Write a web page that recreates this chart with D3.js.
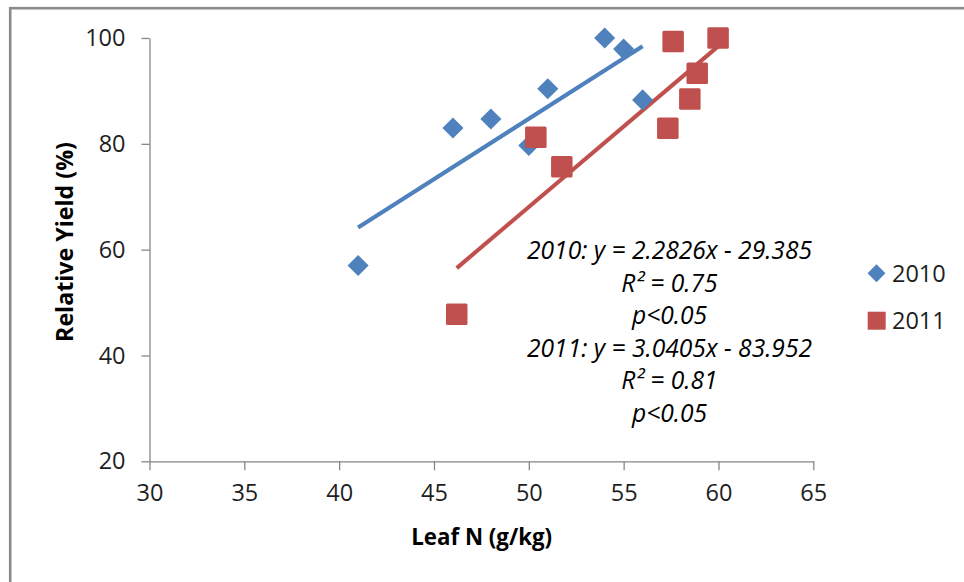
<!DOCTYPE html>
<html>
<head>
<meta charset="utf-8">
<script src="https://cdn.jsdelivr.net/npm/d3@7"></script>
<style>
  html, body { margin: 0; padding: 0; background: #fff; }
  svg { display: block; font-family: "Open Sans", sans-serif; }
</style>
</head>
<body>
<svg id="chart" width="964" height="582"></svg>
<script>
// ---- data ----
const series2010_x = [41, 46, 48, 50, 51, 54, 55, 56];
const series2010_y = [57, 83, 84.7, 79.7, 90.4, 100, 97.9, 88.3];
const series2011_x = [46.2, 50.37, 51.74, 57.33, 57.61, 58.49, 58.88, 59.98];
const series2011_y = [47.8, 81.25, 75.69, 82.95, 99.32, 88.49, 93.35, 100];
const seriesNames = ["2010", "2011"];
const trendSlope = [2.2826, 3.0405];
const trendIntercept = [-29.385, -83.952];
const xTicks = [30, 35, 40, 45, 50, 55, 60, 65];
const yTicks = [20, 40, 60, 80, 100];
const annotationLines = [
  "2010: y = 2.2826x - 29.385",
  "R\u00B2 = 0.75",
  "p<0.05",
  "2011: y = 3.0405x - 83.952",
  "R\u00B2 = 0.81",
  "p<0.05"
];
const xTitle = "Leaf N (g/kg)";
const yTitle = "Relative Yield (%)";

// ---- layout ----
const colors = ["#4F81BD", "#C0504D"];
const svg = d3.select("#chart");

// outer frame
svg.append("rect")
  .attr("x", 10.2).attr("y", 8.2)
  .attr("width", 1000).attr("height", 700)
  .attr("fill", "none")
  .attr("stroke", "#8a8a8a")
  .attr("stroke-width", 2.6);

const x = d3.scaleLinear().domain([30, 65]).range([149.5, 813.3]);
const y = d3.scaleLinear().domain([20, 100]).range([461.3, 38]);

const fontSize = 23.5;

// axes
const yAxis = d3.axisLeft(y).tickValues(yTicks).tickSize(8).tickSizeOuter(0).tickPadding(16);
const xAxis = d3.axisBottom(x).tickValues(xTicks).tickSize(9).tickSizeOuter(0).tickPadding(14.5);

const gy = svg.append("g").attr("transform", `translate(${x(30)},0)`).call(yAxis);
const gx = svg.append("g").attr("transform", `translate(0,${y(20)})`).call(xAxis);

[gx, gy].forEach(g => {
  g.selectAll("path.domain").attr("stroke", "#868686").attr("stroke-width", 1.3);
  g.selectAll(".tick line").attr("stroke", "#868686").attr("stroke-width", 1.3);
  g.selectAll(".tick text")
    .attr("font-family", "'Open Sans', sans-serif")
    .attr("font-size", fontSize)
    .attr("fill", "#1e1e1e");
});

// axis titles
svg.append("text")
  .attr("x", 481.7).attr("y", 545)
  .attr("text-anchor", "middle")
  .attr("font-weight", "bold")
  .attr("font-size", 22.3)
  .attr("fill", "#000")
  .text(xTitle);

svg.append("text")
  .attr("transform", `translate(73,242) rotate(-90)`)
  .attr("text-anchor", "middle")
  .attr("font-weight", "bold")
  .attr("font-size", 23.2)
  .attr("fill", "#000")
  .text(yTitle);

// trend lines
const allX = [series2010_x, series2011_x];
const line = d3.line().x(d => x(d[0])).y(d => y(d[1]));
allX.forEach((xs, i) => {
  const ext = d3.extent(xs);
  const pts = ext.map(v => [v, trendSlope[i] * v + trendIntercept[i]]);
  svg.append("path")
    .attr("d", line(pts))
    .attr("fill", "none")
    .attr("stroke", colors[i])
    .attr("stroke-width", 4.1);
});

// markers
const diamond = d3.symbol().type(d3.symbolSquare).size(222);

svg.append("g").selectAll("path")
  .data(series2010_x.map((v, i) => [v, series2010_y[i]]))
  .join("path")
  .attr("d", diamond)
  .attr("transform", d => `translate(${x(d[0])},${y(d[1])}) rotate(45)`)
  .attr("fill", colors[0]);

svg.append("g").selectAll("rect")
  .data(series2011_x.map((v, i) => [v, series2011_y[i]]))
  .join("rect")
  .attr("x", d => x(d[0]) - 10.75)
  .attr("y", d => y(d[1]) - 10.75)
  .attr("width", 21.5).attr("height", 21.5)
  .attr("rx", 1.5)
  .attr("fill", colors[1]);

// annotation
const ann = svg.append("text")
  .attr("font-style", "italic")
  .attr("font-size", 24.6)
  .attr("fill", "#000")
  .attr("text-anchor", "middle");
annotationLines.forEach((t, i) => {
  ann.append("tspan")
    .attr("x", 669.5)
    .attr("y", 259 + i * 32.6)
    .text(t);
});

// legend
const legend = svg.append("g");
legend.append("path")
  .attr("d", d3.symbol().type(d3.symbolSquare).size(160)())
  .attr("transform", "translate(876.5,273.3) rotate(45)")
  .attr("fill", colors[0]);
legend.append("rect")
  .attr("x", 876.7 - 9).attr("y", 320.7 - 9)
  .attr("width", 18).attr("height", 18)
  .attr("fill", colors[1]);
legend.selectAll("text")
  .data(seriesNames)
  .join("text")
  .attr("x", 892)
  .attr("y", (d, i) => [281.5, 329][i])
  .attr("font-size", fontSize)
  .attr("fill", "#1e1e1e")
  .text(d => d);
</script>
</body>
</html>
